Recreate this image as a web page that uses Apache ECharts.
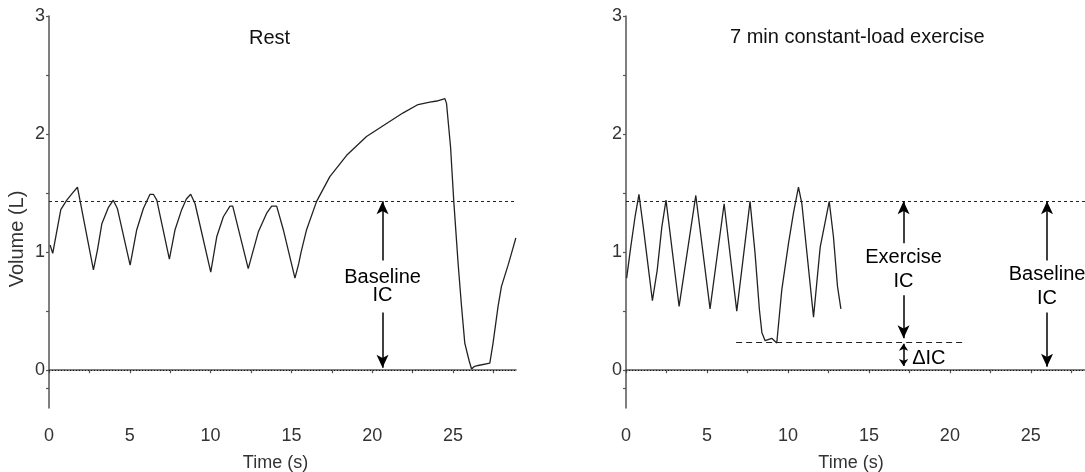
<!DOCTYPE html>
<html>
<head>
<meta charset="utf-8">
<script src="https://cdn.jsdelivr.net/npm/echarts@6/dist/echarts.min.js"></script>
<style>html,body{margin:0;padding:0;background:#fff}#c{width:1085px;height:472px}</style>
</head>
<body>
<div id="c"></div>
<script>
// ---- data ----
const restTime   = [0.07,0.23,0.73,1.10,1.45,1.76,2.75,3.00,3.27,3.68,3.98,4.23,5.02,5.43,5.84,6.25,6.46,6.67,7.45,7.80,8.21,8.50,8.77,9.04,10.01,10.38,10.79,11.20,11.37,12.33,12.95,13.47,13.78,14.09,14.50,15.22,15.45,15.60,15.94,16.56,17.38,18.42,19.65,20.89,21.92,22.84,23.57,24.00,24.50,24.60,24.85,25.05,25.32,25.53,25.73,26.00,26.15,26.30,26.56,27.28,27.48,27.79,28.00,28.41,28.62,28.89];
const restVolume = [1.06,0.99,1.36,1.44,1.50,1.55,0.85,1.02,1.24,1.38,1.44,1.37,0.89,1.19,1.37,1.49,1.49,1.44,0.94,1.19,1.36,1.45,1.49,1.41,0.83,1.13,1.30,1.39,1.39,0.86,1.17,1.33,1.39,1.39,1.19,0.78,0.90,1.00,1.19,1.43,1.64,1.82,1.98,2.09,2.18,2.25,2.27,2.28,2.30,2.26,1.89,1.43,0.90,0.54,0.23,0.08,0.01,0.03,0.04,0.06,0.23,0.54,0.71,0.89,0.99,1.12];
const exTime     = [0.04,0.29,0.56,0.80,1.07,1.63,1.93,2.21,2.47,3.28,4.31,5.19,6.06,6.84,7.66,7.97,8.24,8.39,8.59,9.00,9.31,9.62,10.03,10.34,10.65,10.86,11.58,11.99,12.55,12.81,13.06,13.27];
const exVolume   = [0.78,1.04,1.30,1.49,1.21,0.59,0.85,1.21,1.44,0.54,1.48,0.52,1.41,0.50,1.43,0.99,0.51,0.32,0.25,0.27,0.23,0.68,1.07,1.33,1.55,1.41,0.45,1.04,1.43,1.13,0.71,0.52];

const baselineLevel = 1.43;   // dashed reference line
const zeroLevel = 0;          // dotted reference line
const exerciseLowLevel = 0.24;
const exerciseLowRange = [6.8, 20.9];

const xTicks = [0,2.5,5,7.5,10,12.5,15,17.5,20,22.5,25,27.5];
const xLabels = [0,5,10,15,20,25];
const yTicks = [-0.15,0,0.5,1,1.5,2,2.5,3];
const yLabels = [0,1,2,3];

const restArrowX = 20.64;
const exArrowX = 17.14;
const exBaseArrowX = 26.0;
const deltaLabelX = 18.7;

const panelTitles = ['Rest', '7 min constant-load exercise'];

// ---- chart ----
const FONT = 'Arial, "Liberation Sans", sans-serif';
const chart = echarts.init(document.getElementById('c'), null, {renderer: 'canvas'});

function xAx(gi) {
  return {
    type: 'value', gridIndex: gi, min: 0, max: 28.9,
    name: 'Time (s)', nameLocation: 'middle', nameGap: 46,
    nameTextStyle: {fontFamily: FONT, fontSize: 18, color: '#333', padding: gi === 0 ? [0, 14, 0, 0] : [0, 18, 0, 0]},
    axisLine: {show: true, lineStyle: {color: '#555', width: 1.5}},
    axisTick: {show: true, length: 3, customValues: xTicks, lineStyle: {color: '#555', width: 1.2}},
    axisLabel: {customValues: xLabels, margin: 19, fontFamily: FONT, fontSize: 18, color: '#333'},
    splitLine: {show: false}
  };
}
function yAx(gi) {
  return {
    type: 'value', gridIndex: gi, min: -0.32, max: 3,
    name: gi === 0 ? 'Volume (L)' : '', nameLocation: 'middle', nameGap: 22,
    nameTextStyle: {fontFamily: FONT, fontSize: 20, color: '#333', padding: [0, 54, 0, 0]},
    axisLine: {show: true, lineStyle: {color: '#555', width: 1.5}},
    axisTick: {show: true, length: 3, customValues: yTicks, lineStyle: {color: '#555', width: 1.2}},
    axisLabel: {customValues: yLabels, margin: 4, fontFamily: FONT, fontSize: 18, color: '#333', padding: [4, 0, 0, 0]},
    splitLine: {show: false}
  };
}
function zip(a, b) { return a.map((x, i) => [x, b[i]]); }

const refStyle = {
  dash: {type: [3, 3], color: '#222', width: 1},
  dot: {type: [1, 2], color: '#111', width: 1.2},
  longDash: {type: [6, 4], color: '#222', width: 1.2}
};
function hline(y, x0, x1, st) {
  return [{coord: [x0, y], lineStyle: st}, {coord: [x1, y]}];
}
function arrow(x, y0, y1, size) {
  return [{coord: [x, y0], lineStyle: {type: 'solid', color: '#000', width: 1.5}, symbolSize: size}, {coord: [x, y1], symbolSize: size}];
}

function labelSeries(gi, items, lh, pad) {
  return {
    type: 'scatter', xAxisIndex: gi, yAxisIndex: gi, symbolSize: 0, z: 10, silent: true,
    itemStyle: {opacity: 1},
    data: items,
    label: {
      show: true, position: 'inside', formatter: p => p.data[2],
      fontFamily: FONT, fontSize: 20, color: '#000', lineHeight: lh,
      textBorderWidth: 0, textShadowBlur: 0,
      backgroundColor: '#fff', padding: pad, align: 'center', verticalAlign: 'middle'
    }
  };
}

const option = {
  animation: false,
  backgroundColor: '#fff',
  title: [
    {text: panelTitles[0], left: 249, top: 28, padding: 0, textStyle: {fontFamily: FONT, fontSize: 20, fontWeight: 'normal', color: '#111'}},
    {text: panelTitles[1], left: 730, top: 27, padding: 0, textStyle: {fontFamily: FONT, fontSize: 20, fontWeight: 'normal', color: '#111'}}
  ],
  grid: [
    {left: 49, top: 16, width: 467, height: 392, containLabel: false, outerBoundsMode: 'none'},
    {left: 626, top: 16, width: 468, height: 392, containLabel: false, outerBoundsMode: 'none'}
  ],
  xAxis: [xAx(0), xAx(1)],
  yAxis: [yAx(0), yAx(1)],
  series: [
    {
      type: 'line', xAxisIndex: 0, yAxisIndex: 0, data: zip(restTime, restVolume),
      showSymbol: false, symbol: 'none', smooth: false, z: 5,
      lineStyle: {color: '#222', width: 1.3},
      markLine: {
        silent: true, symbol: ['none', 'none'], label: {show: false}, z: 3,
        data: [
          hline(baselineLevel, 0, 28.85, refStyle.dash),
          hline(zeroLevel, 0, 28.85, refStyle.dot)
        ]
      }
    },
    {
      type: 'line', xAxisIndex: 0, yAxisIndex: 0, data: [], z: 4,
      markLine: {
        silent: true, symbol: ['arrow', 'arrow'], label: {show: false},
        data: [arrow(restArrowX, baselineLevel, 0.02, [9, 13])]
      }
    },
    labelSeries(0, [[restArrowX, 0.71, 'Baseline\nIC']], 18, [8, 4]),
    {
      type: 'line', xAxisIndex: 1, yAxisIndex: 1, data: zip(exTime, exVolume),
      showSymbol: false, symbol: 'none', smooth: false, z: 5,
      lineStyle: {color: '#222', width: 1.3},
      markLine: {
        silent: true, symbol: ['none', 'none'], label: {show: false}, z: 3,
        data: [
          hline(baselineLevel, 0, 28.9, refStyle.dash),
          hline(zeroLevel, 0, 28.9, refStyle.dot),
          hline(exerciseLowLevel, exerciseLowRange[0], exerciseLowRange[1], refStyle.longDash)
        ]
      }
    },
    {
      type: 'line', xAxisIndex: 1, yAxisIndex: 1, data: [], z: 4,
      markLine: {
        silent: true, symbol: ['arrow', 'arrow'], label: {show: false},
        data: [
          arrow(exArrowX, baselineLevel, 0.27, [9, 13]),
          arrow(exArrowX, 0.225, 0.035, [7, 7]),
          arrow(exBaseArrowX, baselineLevel, 0.03, [9, 13])
        ]
      }
    },
    labelSeries(1, [[exArrowX, 0.855, 'Exercise\nIC'], [exBaseArrowX, 0.71, 'Baseline\nIC']], 24, [2, 4]),
    {
      type: 'scatter', xAxisIndex: 1, yAxisIndex: 1, symbolSize: 0, z: 10, silent: true,
      itemStyle: {opacity: 1},
      data: [[deltaLabelX, 0.10, 'ΔIC']],
      label: {show: true, position: 'inside', formatter: p => p.data[2], fontFamily: FONT, fontSize: 20, color: '#000', textBorderWidth: 0}
    }
  ]
};
chart.setOption(option);
</script>
</body>
</html>
